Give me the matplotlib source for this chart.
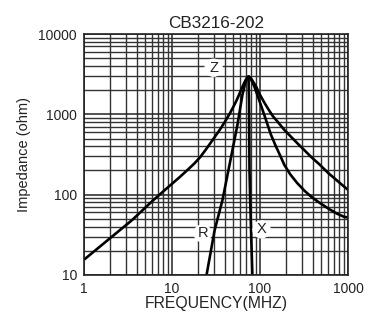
import numpy as np
import matplotlib
matplotlib.use("Agg")
from matplotlib import pyplot as plt
from matplotlib.ticker import LogLocator, NullFormatter, FixedLocator

# impedance curves (MHz, ohm)
z_freq = [1, 2, 3.5, 6.1, 8.5, 12.2, 15, 18, 21, 24.5, 28, 32, 36, 41.3, 45.5, 50, 54,
          58.4, 62, 66, 70, 72, 74, 76, 80, 90, 100, 112, 125, 140, 160, 189, 220,
          264, 310, 379, 480, 600, 750, 903, 1000]
z_ohm = [15.5, 29, 48, 85, 117, 165, 203, 245, 295, 370, 455, 560, 675, 860, 1030, 1250, 1480,
         1800, 2100, 2450, 2780, 2900, 2950, 2920, 2750, 2230, 1750, 1400, 1150, 950, 800, 640, 540,
         440, 370, 297, 235, 185, 150, 126, 115]

r_freq = [24.7, 30.5, 37.5, 46.2, 55.4, 63.1, 68.2, 72, 74,
          76, 80, 86.5, 95, 103, 115, 133, 150, 170, 189, 220, 264, 320, 379,
          470, 600, 750, 903, 1000]
r_ohm = [10, 36, 86, 270, 738, 1740, 2500, 2880, 2950,
         2900, 2650, 2200, 1650, 1280, 900, 560, 410, 305, 235, 180, 140, 112, 95,
         80, 67, 58, 53, 52]

x_freq = [74, 75, 75.5, 76, 77.5, 79.5, 82]
x_ohm = [2950, 1500, 600, 200, 80, 30, 10]

x_ticks = [1, 10, 100, 1000]
y_ticks = [10, 100, 1000, 10000]

plt.rcParams['font.family'] = ['Liberation Sans', 'DejaVu Sans']

fig = plt.figure(figsize=(3.7, 3.12), dpi=100)
ax = fig.add_axes([0.227, 0.1186, 0.7135, 0.7724])

for f, z in [(z_freq, z_ohm), (r_freq, r_ohm), (x_freq, x_ohm)]:
    ax.plot(f, z, color='black', lw=1.9, solid_capstyle='round', solid_joinstyle='round')

ax.set_xscale('log')
ax.set_yscale('log')
ax.set_xlim(1, 1000)
ax.set_ylim(10, 10000)

ax.xaxis.set_major_locator(FixedLocator(x_ticks))
ax.yaxis.set_major_locator(FixedLocator(y_ticks))
ax.xaxis.set_minor_locator(LogLocator(base=10, subs=np.arange(2, 10)))
ax.yaxis.set_minor_locator(LogLocator(base=10, subs=np.arange(2, 10)))
ax.xaxis.set_minor_formatter(NullFormatter())
ax.yaxis.set_minor_formatter(NullFormatter())
ax.set_xticklabels([str(t) for t in x_ticks])
ax.set_yticklabels([str(t) for t in y_ticks])
ax.tick_params(which='both', length=0, labelsize=10, colors='#222222', pad=5)

ax.grid(True, which='major', color='#222222', lw=1.1)
ax.grid(True, which='minor', color='#333333', lw=1.0)
for s in ax.spines.values():
    s.set_color('#222222')
    s.set_linewidth(1.2)

lbl = dict(fontsize=10.5, color='#222222', ha='center', va='center',
           bbox=dict(boxstyle='circle,pad=0.15', fc='white', ec='none'))
ax.text(29.7, 3800, 'Z', **lbl)
ax.text(22.3, 33, 'R', **lbl)
ax.text(104, 37, 'X', **lbl)

ax.set_title('CB3216-202', fontsize=12.3, color='#222222', pad=4)
ax.set_xlabel('FREQUENCY(MHZ)', fontsize=11.3, color='#222222', labelpad=0)
ax.set_ylabel('Impedance (ohm)', fontsize=10.5, color='#222222', labelpad=5)

fig.savefig('out.png', dpi=100, facecolor='white')
